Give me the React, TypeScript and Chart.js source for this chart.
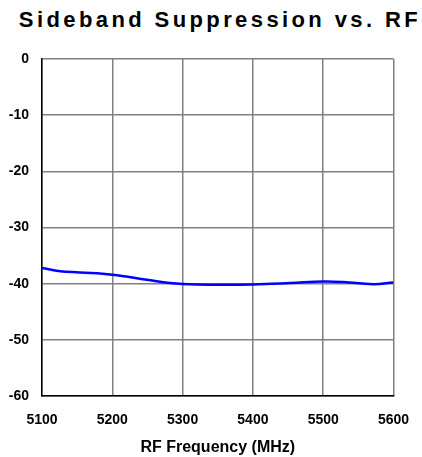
import React, { useEffect, useRef } from "react";
import { Chart, registerables } from "chart.js";

Chart.register(...registerables);

const TITLE = "Sideband Suppression vs. RF";
const X_TITLE = "RF Frequency (MHz)";
const FREQ = [5100, 5126, 5154, 5200, 5249, 5282, 5320, 5400, 5453, 5500, 5529, 5571, 5600];
const SUPPRESSION = [-37.2, -37.8, -38.0, -38.4, -39.3, -39.9, -40.15, -40.15, -39.9, -39.6, -39.7, -40.1, -39.8];
const X_MIN = 5100;
const X_MAX = 5600;
const Y_MIN = -60;
const Y_MAX = 0;

export default function App() {
  const ref = useRef<HTMLCanvasElement | null>(null);
  useEffect(() => {
    if (!ref.current) return;
    const font = { family: "'Liberation Sans', Arial, sans-serif", weight: "bold" as const, size: 14 };
    const chart = new Chart(ref.current, {
      type: "line",
      data: {
        datasets: [
          {
            data: FREQ.map((f, i) => ({ x: f, y: SUPPRESSION[i] })),
            borderColor: "#0000ff",
            borderWidth: 2.5,
            pointRadius: 0,
            tension: 0.4,
            fill: false,
          },
        ],
      },
      options: {
        animation: false,
        responsive: false,
        maintainAspectRatio: false,
        layout: { padding: { top: 59, right: 28.5, left: 0, bottom: 0 } },
        plugins: { legend: { display: false }, tooltip: { enabled: false }, title: { display: false } },
        scales: {
          x: {
            type: "linear",
            min: X_MIN,
            max: X_MAX,
            ticks: {
              stepSize: 100,
              color: "#000",
              font,
              padding: 3,
              maxRotation: 0,
              autoSkip: false,
              callback: (v: any) => String(v),
            },
            grid: { color: "#808080", lineWidth: 1.5, drawTicks: true, tickLength: 13, tickColor: "rgba(0,0,0,0)" },
            border: { color: "#000", width: 1.5 },
            title: { display: true, text: X_TITLE, color: "#000", font: { ...font, size: 16 }, padding: { top: 8, bottom: 0 } },
            afterFit: (s: any) => { s.height = 61; },
          },
          y: {
            min: Y_MIN,
            max: Y_MAX,
            ticks: { stepSize: 10, color: "#000", font, padding: 13 },
            grid: { color: "#808080", lineWidth: 1.5, drawTicks: false },
            border: { color: "#000", width: 1.5 },
            afterFit: (s: any) => { s.width = 42; },
          },
        },
      },
    });
    return () => chart.destroy();
  }, []);
  return (
    <div style={{ position: "fixed", left: 0, top: 0, width: 422, height: 457, background: "#fff" }}>
      <div
        style={{
          position: "absolute",
          left: 9,
          top: 6,
          width: 422,
          textAlign: "center",
          fontFamily: "'Liberation Sans', Arial, sans-serif",
          fontWeight: "bold",
          fontSize: 22,
          letterSpacing: 3.4,
          lineHeight: "28px",
          color: "#000",
          whiteSpace: "nowrap",
        }}
      >
        {TITLE}
      </div>
      <canvas ref={ref} width={422} height={457} style={{ position: "absolute", left: 0, top: 0 }} />
    </div>
  );
}
